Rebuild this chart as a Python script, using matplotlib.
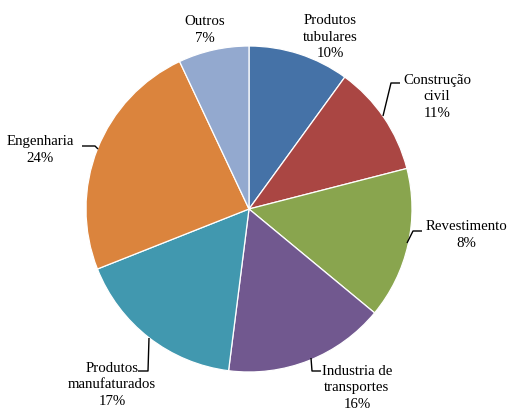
import matplotlib
matplotlib.use("Agg")
import matplotlib.pyplot as plt

# sectors, clockwise from 12 o'clock
sectors = ["Produtos\ntubulares", "Construção\ncivil", "Revestimento",
           "Industria de\ntransportes", "Produtos\nmanufaturados",
           "Engenharia", "Outros"]
shares = [10, 11, 15, 16, 17, 24, 7]
pct_text = ["10%", "11%", "8%", "16%", "17%", "24%", "7%"]
colors = ["#4572A7", "#AA4643", "#89A54E", "#71588F", "#4198AF",
          "#DB843D", "#93A9CF"]

W, H = 508, 412
cx, cy, R = 249, 209, 163


def px(x, y):
    # pixel position -> data coords (pie radius = 1)
    return (x - cx) / R, (cy - y) / R


fig = plt.figure(figsize=(W / 100, H / 100), dpi=100)
fig.patch.set_facecolor("white")
half = 200
ax = fig.add_axes([(cx - half) / W, (H - cy - half) / H, 2 * half / W, 2 * half / H])
ax.axis("off")

ax.pie(shares, colors=colors, startangle=90, counterclock=False, radius=1,
       center=(0, 0), frame=False,
       wedgeprops=dict(edgecolor="white", linewidth=0.9))
ax.set_xlim(-half / R, half / R)
ax.set_ylim(-half / R, half / R)
ax.set_aspect("equal")

# label centres and leader lines, pixel positions
label_pos = [(330, 37), (437, 97), (466, 235), (357, 388), (112, 385),
             (40, 150), (205, 30)]
leaders = {
    1: [(383, 116), (391, 83), (400, 83)],
    2: [(407, 243), (413, 231), (422, 231)],
    3: [(311, 358), (312, 371), (321, 371)],
    4: [(149, 338), (148, 371), (138, 371)],
    5: [(98, 149), (95, 146), (82, 146)],
}

txt_font = dict(family="Liberation Serif", size=10.7, color="black")
for i, (name, pct) in enumerate(zip(sectors, pct_text)):
    x, y = px(*label_pos[i])
    ax.text(x, y, f"{name}\n{pct}", ha="center", va="center",
            multialignment="center", linespacing=1.32, **txt_font)
    if i in leaders:
        pts = [px(*p) for p in leaders[i]]
        ax.plot([p[0] for p in pts], [p[1] for p in pts], color="black",
                lw=1.0, solid_capstyle="butt")

fig.savefig("out.png", dpi=100)
